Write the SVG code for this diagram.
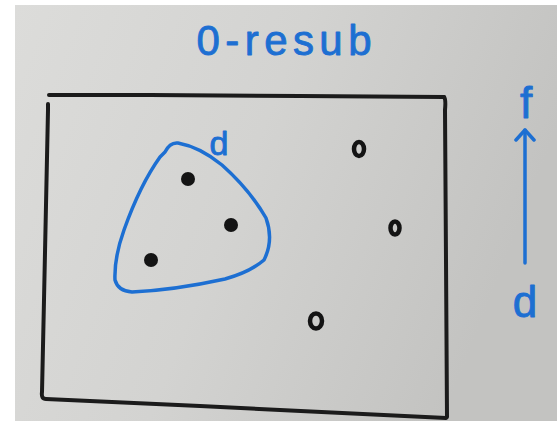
<svg xmlns="http://www.w3.org/2000/svg" width="557" height="421" viewBox="0 0 557 421">
  <defs>
    <linearGradient id="board" x1="0" y1="0" x2="1" y2="0.3">
      <stop offset="0" stop-color="#dcdcda"/>
      <stop offset="0.5" stop-color="#d3d3d1"/>
      <stop offset="1" stop-color="#c3c3c1"/>
    </linearGradient>
    <marker id="head" viewBox="0 0 14 22" refX="12" refY="11" markerWidth="14" markerHeight="22" markerUnits="userSpaceOnUse" orient="auto">
      <path d="M2 2 L12 11 L2 20" fill="none" stroke="#1d6fd2" stroke-width="3.5" stroke-linecap="round" stroke-linejoin="round"/>
    </marker>
    <style>
      .ink { fill: none; stroke: #1b1b1b; stroke-width: 4; stroke-linecap: round; stroke-linejoin: round; }
      .blue { fill: none; stroke: #1d6fd2; stroke-width: 3.5; stroke-linecap: round; stroke-linejoin: round; }
      .dot { fill: #141414; }
      .ring { fill: none; stroke: #141414; stroke-width: 4.5; }
      .lbl { font-family: "Liberation Sans", Arial, sans-serif; fill: #1d6fd2; stroke: #1d6fd2; stroke-width: 0.9; stroke-linejoin: round; text-anchor: middle; }
    </style>
  </defs>

  <rect x="0" y="0" width="557" height="421" fill="#ffffff"/>
  <rect x="15" y="5" width="542" height="416" fill="url(#board)"/>

  <g id="title">
    <text class="lbl" x="284" y="55" font-size="42" textLength="175" lengthAdjust="spacing">0-resub</text>
  </g>

  <g id="frame">
    <path class="ink" d="M49 95 L150 95 L300 96 L444 97"/>
    <path class="ink" d="M444 97 Q446 99 445 110 L446 260 L447 417"/>
    <path class="ink" d="M48 104 L48 110 Q46 200 44 300 L42 392 Q41 399 46 399 L200 406 L446 418"/>
  </g>

  <g id="blob">
    <path class="blue" d="M165 152 Q170 142 178 143 Q200 147 222 165 Q250 190 266 218 Q274 240 264 260 Q250 272 225 279 Q175 290 132 292 Q118 291 115 280 Q114 258 124 230 Q140 185 160 157 Z"/>
  </g>
  <g id="label-d-blob">
    <text class="lbl" x="219" y="155" font-size="34">d</text>
  </g>

  <g id="dot1"><circle class="dot" cx="188" cy="179" r="7"/></g>
  <g id="dot2"><circle class="dot" cx="231" cy="225" r="7"/></g>
  <g id="dot3"><circle class="dot" cx="151" cy="260" r="7"/></g>

  <g id="ring1"><ellipse class="ring" cx="359" cy="149" rx="5" ry="7"/></g>
  <g id="ring2"><ellipse class="ring" cx="395" cy="228" rx="4.5" ry="6.5"/></g>
  <g id="ring3"><ellipse class="ring" cx="316" cy="321" rx="6" ry="7.5"/></g>

  <g id="label-f">
    <text class="lbl" x="526" y="118" font-size="44">f</text>
  </g>
  <g id="label-d-right">
    <text class="lbl" x="525" y="317" font-size="44">d</text>
  </g>

  <g id="connectors">
    <path class="blue" d="M525 263 L525 130" marker-end="url(#head)"/>
  </g>
</svg>
